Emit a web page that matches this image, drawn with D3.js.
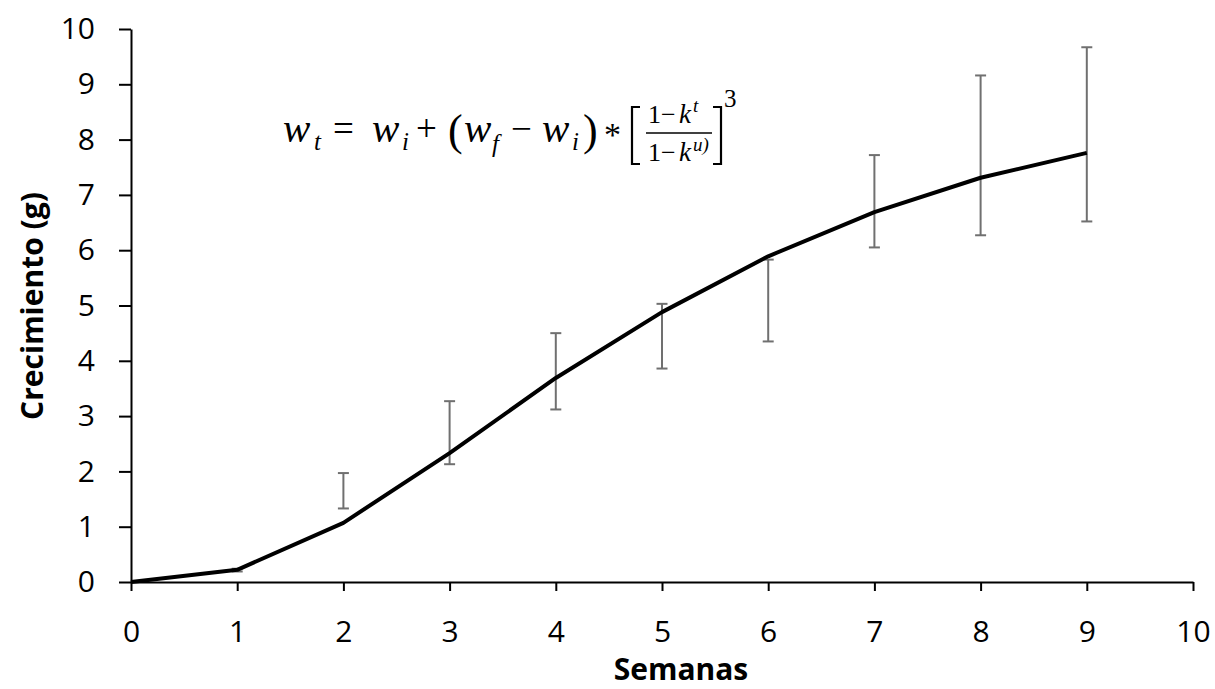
<!DOCTYPE html>
<html lang="es">
<head>
<meta charset="UTF-8">
<title>Crecimiento</title>
<script src="https://d3js.org/d3.v7.min.js"></script>
<style>
  body { margin: 0; background: #fff; }
  .axis text { font-family: "Open Sans", sans-serif; font-size: 30px; fill: #000; }
  .axis path, .axis line { stroke: #000; stroke-width: 2px; }
  .title { font-family: "Open Sans", sans-serif; font-weight: bold; font-size: 30px; fill: #000; }
  .eq { font-family: "Liberation Serif", serif; fill: #000; }
</style>
</head>
<body>
<div id="chart"></div>
<script>
// semanas y crecimiento (g)
const weeks = [0, 1, 2, 3, 4, 5, 6, 7, 8, 9];
const growth = [0, 0.22, 1.07, 2.33, 3.69, 4.88, 5.89, 6.69, 7.31, 7.76];
// barras de error (límites inferior / superior)
const errLow = [null, 0.19, 1.33, 2.13, 3.12, 3.86, 4.35, 6.05, 6.27, 6.52];
const errHigh = [null, 0.24, 1.97, 3.27, 4.50, 5.03, 5.83, 7.72, 9.16, 9.67];
const xTicks = [0, 1, 2, 3, 4, 5, 6, 7, 8, 9, 10];
const yTicks = [0, 1, 2, 3, 4, 5, 6, 7, 8, 9, 10];

const width = 1215, height = 689;
const margin = {top: 29, right: 22, bottom: 107, left: 131};

const svg = d3.select("#chart").append("svg")
    .attr("width", width)
    .attr("height", height);

const x = d3.scaleLinear().domain([0, 10]).range([margin.left, width - margin.right]);
const y = d3.scaleLinear().domain([0, 10]).range([height - margin.bottom, margin.top]);

// axes
svg.append("g")
    .attr("class", "axis")
    .attr("transform", `translate(0,${y(0)})`)
    .call(d3.axisBottom(x).tickValues(xTicks).tickSize(9).tickSizeOuter(0).tickPadding(30));

svg.append("g")
    .attr("class", "axis")
    .attr("transform", `translate(${x(0)},0)`)
    .call(d3.axisLeft(y).tickValues(yTicks).tickSize(12).tickSizeOuter(0).tickPadding(24));

// error bars
const bars = weeks.map((w, i) => ({w, lo: errLow[i], hi: errHigh[i]})).filter(d => d.lo !== null);
const capW = 5.5;
const eb = svg.append("g").attr("stroke", "#707070").attr("stroke-width", 2);
bars.forEach(d => {
    eb.append("line").attr("x1", x(d.w)).attr("x2", x(d.w)).attr("y1", y(d.lo)).attr("y2", y(d.hi));
    eb.append("line").attr("x1", x(d.w) - capW).attr("x2", x(d.w) + capW).attr("y1", y(d.lo)).attr("y2", y(d.lo));
    eb.append("line").attr("x1", x(d.w) - capW).attr("x2", x(d.w) + capW).attr("y1", y(d.hi)).attr("y2", y(d.hi));
});

// model line
const line = d3.line().x((d, i) => x(weeks[i])).y(d => y(d));
svg.append("path")
    .datum(growth)
    .attr("fill", "none")
    .attr("stroke", "#000")
    .attr("stroke-width", 4)
    .attr("stroke-linejoin", "round")
    .attr("d", line);

// axis titles
svg.append("text")
    .attr("class", "title")
    .attr("x", 681)
    .attr("y", 680)
    .attr("text-anchor", "middle")
    .text("Semanas");

svg.append("text")
    .attr("class", "title")
    .attr("transform", "translate(43,306) rotate(-90)")
    .attr("text-anchor", "middle")
    .text("Crecimiento (g)");

// equation
const eq = svg.append("g").attr("class", "eq");
function put(txt, px, py, size, italic) {
    eq.append("text")
        .attr("x", px).attr("y", py)
        .attr("font-size", size)
        .attr("font-style", italic ? "italic" : "normal")
        .text(txt);
}
put("w", 283, 142, 41, true);
put("t", 314, 150, 25, true);
put("=", 333, 141, 37, false);
put("w", 372, 142, 41, true);
put("i", 402, 150, 25, true);
put("+", 416, 141, 37, false);
put("(", 448, 145, 44, false);
put("w", 464, 142, 41, true);
put("f", 492, 152, 25, true);
put("\u2212", 511, 141, 37, false);
put("w", 542, 142, 41, true);
put("i", 572, 150, 25, true);
put(")", 583, 145, 44, false);
put("*", 604, 146, 34, false);
put("1\u2212", 648, 123, 26, false);
put("k", 679, 123, 27, true);
put("t", 693, 112, 19, true);
put("1\u2212", 648, 161, 26, false);
put("k", 679, 161, 27, true);
put("u)", 693, 151, 19, true);
put("3", 724, 107, 25, false);
eq.append("line").attr("x1", 646).attr("x2", 712).attr("y1", 133).attr("y2", 133)
    .attr("stroke", "#000").attr("stroke-width", 1.5);
eq.append("path").attr("d", "M640,107 L632,107 L632,164 L640,164")
    .attr("fill", "none").attr("stroke", "#000").attr("stroke-width", 2.2);
eq.append("path").attr("d", "M713,107 L721,107 L721,164 L713,164")
    .attr("fill", "none").attr("stroke", "#000").attr("stroke-width", 2.2);
</script>
</body>
</html>
